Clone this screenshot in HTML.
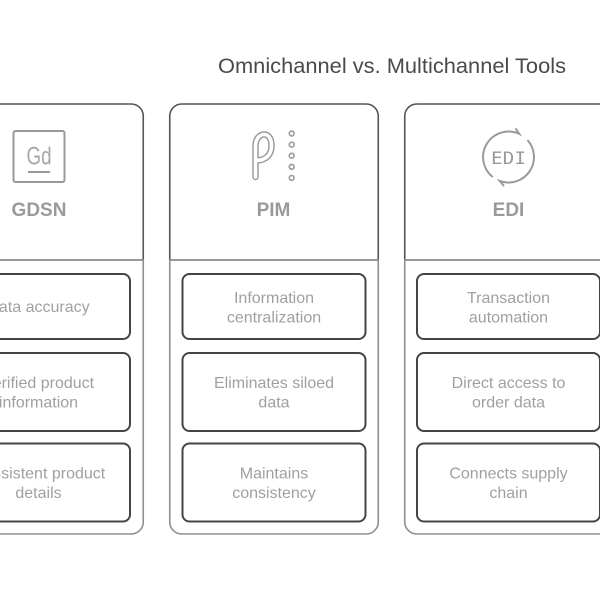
<!DOCTYPE html>
<html>
<head>
<meta charset="utf-8">
<style>
  html,body{margin:0;padding:0;background:#fff;}
  svg{display:block;}
  .t{font-family:"Liberation Sans",Arial,sans-serif;}
</style>
</head>
<body>
<svg width="600" height="600" viewBox="0 0 600 600" xmlns="http://www.w3.org/2000/svg">
  <rect width="600" height="600" fill="#fff"/>

  <!-- Title -->
  <text class="t" x="392" y="73" font-size="21.5" fill="#4a4a4a" text-anchor="middle" textLength="348" lengthAdjust="spacingAndGlyphs">Omnichannel vs. Multichannel Tools</text>

  <!-- Card 1: GDSN (x0=-66) -->
  <g transform="translate(-66,0)">
    <path d="M0.75,260 V116 A12,12 0 0 1 12.75,104 H197.25 A12,12 0 0 1 209.25,116 V260" fill="none" stroke="#555" stroke-width="1.6"/>
    <path d="M0.75,260 V522 A12,12 0 0 0 12.75,534 H197.25 A12,12 0 0 0 209.25,522 V260 Z" fill="none" stroke="#8f8f8f" stroke-width="1.6"/>
    <line x1="0.75" y1="260" x2="209.25" y2="260" stroke="#888" stroke-width="1.6"/>
  </g>
  <!-- Card 2: PIM (x0=169) -->
  <g transform="translate(169,0)">
    <path d="M0.75,260 V116 A12,12 0 0 1 12.75,104 H197.25 A12,12 0 0 1 209.25,116 V260" fill="none" stroke="#555" stroke-width="1.6"/>
    <path d="M0.75,260 V522 A12,12 0 0 0 12.75,534 H197.25 A12,12 0 0 0 209.25,522 V260 Z" fill="none" stroke="#8f8f8f" stroke-width="1.6"/>
    <line x1="0.75" y1="260" x2="209.25" y2="260" stroke="#888" stroke-width="1.6"/>
  </g>
  <!-- Card 3: EDI (x0=404) -->
  <g transform="translate(404,0)">
    <path d="M0.75,260 V116 A12,12 0 0 1 12.75,104 H197.25 A12,12 0 0 1 209.25,116 V260" fill="none" stroke="#555" stroke-width="1.6"/>
    <path d="M0.75,260 V522 A12,12 0 0 0 12.75,534 H197.25 A12,12 0 0 0 209.25,522 V260 Z" fill="none" stroke="#8f8f8f" stroke-width="1.6"/>
    <line x1="0.75" y1="260" x2="209.25" y2="260" stroke="#888" stroke-width="1.6"/>
  </g>

  <!-- Inner boxes -->
  <g fill="#fff" stroke="#454545" stroke-width="2">
    <rect x="-53" y="274" width="183" height="65" rx="7"/>
    <rect x="-53" y="353" width="183" height="78" rx="7"/>
    <rect x="-53" y="443.5" width="183" height="78" rx="7"/>

    <rect x="182.5" y="274" width="183" height="65" rx="7"/>
    <rect x="182.5" y="353" width="183" height="78" rx="7"/>
    <rect x="182.5" y="443.5" width="183" height="78" rx="7"/>

    <rect x="417" y="274" width="183" height="65" rx="7"/>
    <rect x="417" y="353" width="183" height="78" rx="7"/>
    <rect x="417" y="443.5" width="183" height="78" rx="7"/>
  </g>

  <!-- Header labels -->
  <g class="t" font-size="19" font-weight="bold" fill="#9a9a9a" text-anchor="middle">
    <text x="39" y="216">GDSN</text>
    <text x="273.5" y="216">PIM</text>
    <text x="508.5" y="216">EDI</text>
  </g>

  <!-- Box texts -->
  <g class="t" font-size="16" fill="#a0a0a0" text-anchor="middle">
    <text x="38.5" y="312">Data accuracy</text>
    <text x="38.5" y="388">Verified product</text>
    <text x="38.5" y="407.5">information</text>
    <text x="38.5" y="478.5">Consistent product</text>
    <text x="38.5" y="498">details</text>

    <text x="274" y="303">Information</text>
    <text x="274" y="322.5">centralization</text>
    <text x="274" y="388">Eliminates siloed</text>
    <text x="274" y="407.5">data</text>
    <text x="274" y="478.5">Maintains</text>
    <text x="274" y="498">consistency</text>

    <text x="508.5" y="303">Transaction</text>
    <text x="508.5" y="322.5">automation</text>
    <text x="508.5" y="388">Direct access to</text>
    <text x="508.5" y="407.5">order data</text>
    <text x="508.5" y="478.5">Connects supply</text>
    <text x="508.5" y="498">chain</text>
  </g>

  <!-- GDSN icon -->
  <rect x="13.5" y="131" width="51" height="51" rx="2" fill="none" stroke="#999" stroke-width="2"/>
  <text class="t" x="39" y="164.5" font-size="25" fill="#a6a6a6" text-anchor="middle" textLength="25" lengthAdjust="spacingAndGlyphs">Gd</text>
  <line x1="28" y1="172" x2="50" y2="172" stroke="#999" stroke-width="2"/>

  <!-- PIM icon -->
  <path d="M255.5,177 V146 C255.5,139 259.5,134.5 264,134.5 C269,134.5 271.5,139 271.5,146 C271.5,155 265.5,160.5 256,160.5" fill="none" stroke="#9a9a9a" stroke-width="6.5" stroke-linecap="round" stroke-linejoin="round"/>
  <path d="M255.5,177 V146 C255.5,139 259.5,134.5 264,134.5 C269,134.5 271.5,139 271.5,146 C271.5,155 265.5,160.5 256,160.5" fill="none" stroke="#fff" stroke-width="3.6" stroke-linecap="round" stroke-linejoin="round"/>
  <g fill="none" stroke="#999" stroke-width="1.6">
    <circle cx="291.7" cy="133.5" r="2.4"/>
    <circle cx="291.7" cy="144.6" r="2.4"/>
    <circle cx="291.7" cy="155.7" r="2.4"/>
    <circle cx="291.7" cy="166.8" r="2.4"/>
    <circle cx="291.7" cy="177.9" r="2.4"/>
  </g>

  <!-- EDI icon -->
  <g fill="none" stroke="#9a9a9a" stroke-width="2" stroke-linecap="round">
    <path d="M492.1,176.5 A25.5,25.5 0 0 1 519.3,133.9 L516,129.1"/>
    <path d="M528,140.6 A25.5,25.5 0 0 1 499.8,181 L503.5,185.5"/>
  </g>
  <text x="508.5" y="164" font-family="'DejaVu Sans Mono',monospace" font-size="17" fill="#9a9a9a" text-anchor="middle" textLength="35" lengthAdjust="spacingAndGlyphs">EDI</text>
</svg>
</body>
</html>
